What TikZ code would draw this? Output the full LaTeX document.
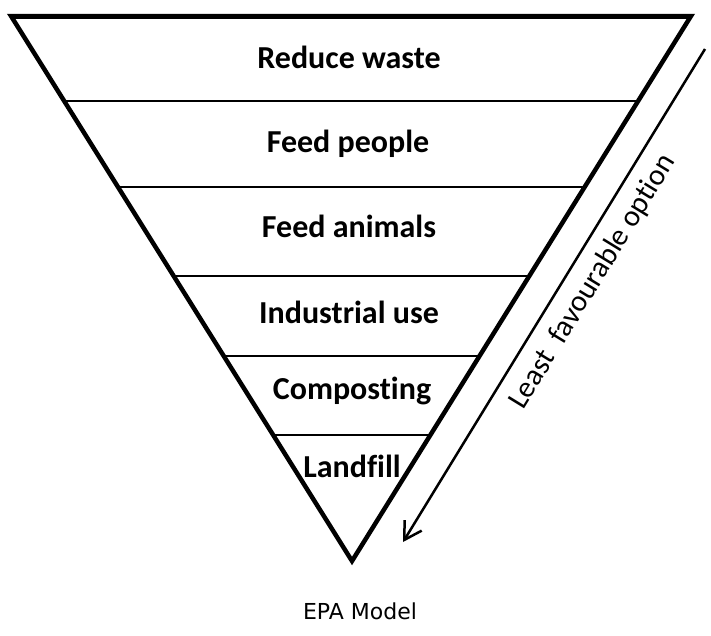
\documentclass[tikz,border=0pt]{standalone}
\usepackage{fontspec}
\setmainfont{Carlito}[Ligatures=NoCommon]
\newfontfamily\capfont{DejaVu Sans}
\usetikzlibrary{calc,arrows.meta}

\begin{document}
\begin{tikzpicture}[x=1pt, y=-1pt,
    level/.style={font=\bfseries\fontsize{32}{38}\selectfont, anchor=base}]
    \useasboundingbox (0,0) rectangle (711,635);

    % Corners of the funnel
    \coordinate (tl) at (11,16);
    \coordinate (tr) at (691,16);
    \coordinate (apex) at (352,561);

    % Funnel
    \draw[line width=4.5pt] (tl) -- (tr) -- (apex) -- cycle;
    \draw[line width=5pt] (tl) -- (tr);
    \foreach \yy in {101,187,276,356,435}
        \draw[line width=1.6pt] ($(tl)!{(\yy-16)/545}!(apex)$) -- ($(tr)!{(\yy-16)/545}!(apex)$);

    % Levels
    \node[level] (reduce) at (349,68) {Reduce waste};
    \node[level] (people) at (348,152) {Feed people};
    \node[level] (animals) at (349,237) {Feed animals};
    \node[level] (industry) at (349,323) {Industrial use};
    \node[level] (compost) at (352,399) {Composting};
    \node[level] (landfill) at (352,477) {Landfill};

    % Arrow along the side
    \coordinate (best) at (705,49);
    \coordinate (worst) at (403,542);
    \path[draw, line width=2.5pt, -{Straight Barb[length=17pt,width=20pt]}] (best) -- (worst);
    \node[rotate=58.5, inner sep=0pt, font=\fontsize{30}{34}\selectfont] (least) at ($(best)!0.445!(worst)!26pt!90:(worst)$) {Least~ favourable option};

    % Caption
    \node[font=\capfont\fontsize{22}{26}\selectfont, anchor=base] (caption) at (360,619) {EPA Model};

\end{tikzpicture}
\end{document}
